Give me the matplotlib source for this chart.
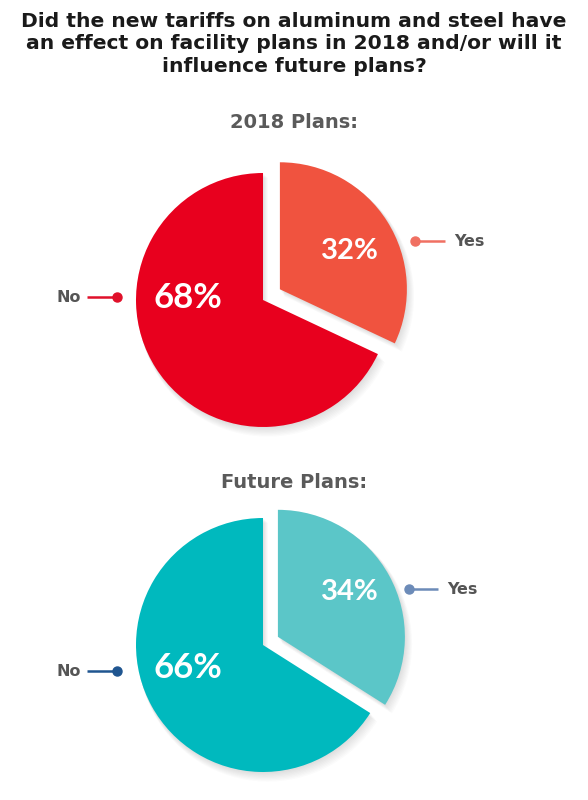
import matplotlib
matplotlib.use("Agg")
import matplotlib.pyplot as plt

# ---- data ----
title = "Did the new tariffs on aluminum and steel have\nan effect on facility plans in 2018 and/or will it\ninfluence future plans?"
chart_titles = ["2018 Plans:", "Future Plans:"]
categories = ["Yes", "No"]
plans_2018 = [32, 68]
plans_future = [34, 66]

colors_2018 = ["#F0533F", "#E8001E"]
colors_future = ["#5BC6C8", "#00B9BE"]
line_2018 = ["#F07062", "#E0102A"]
line_future = ["#6C8BB8", "#1F5590"]

H = 800
def Y(p):
    return H - p

fig = plt.figure(figsize=(5.88, 8.0), dpi=100)
ax = fig.add_axes([0, 0, 1, 1])
ax.set_xlim(0, 588)
ax.set_ylim(0, 800)
ax.set_aspect("equal")
ax.axis("off")

fig.text(0.5, 1 - 12 / 800, title, ha="center", va="top", fontsize=14.6,
         fontweight="bold", color="#1a1a1a", linespacing=1.23,
         family="DejaVu Sans")

specs = [
    dict(vals=plans_2018, cols=colors_2018, lines=line_2018, cy=300, sub_y=122,
         explode=20, yes_pct=(350, 251), no_pct=(188, 298),
         yes_lab=(415, 445, 241), no_lab=(117, 87, 297)),
    dict(vals=plans_future, cols=colors_future, lines=line_future, cy=645, sub_y=482,
         explode=17, yes_pct=(350, 592), no_pct=(188, 668),
         yes_lab=(409, 438, 589), no_lab=(117, 87, 671)),
]

cx = 263
r = 127
for i, s in enumerate(specs):
    center = (cx, Y(s["cy"]))
    # soft shadow
    for k in range(1, 9):
        ax.pie(s["vals"], colors=["#606060", "#606060"], startangle=90, counterclock=False,
               explode=[s["explode"], 0], radius=r + 0.3 * k,
               center=(center[0] + 0.6 * k, center[1] - 0.9 * k),
               wedgeprops=dict(alpha=0.022, linewidth=0, zorder=1), frame=True)
    ax.pie(s["vals"], colors=s["cols"], startangle=90, counterclock=False,
           explode=[s["explode"], 0], radius=r, center=center,
           wedgeprops=dict(linewidth=0, zorder=2), frame=True)
    ax.set_xlim(0, 588)
    ax.set_ylim(0, 800)
    ax.set_aspect("equal")
    ax.axis("off")

    ax.text(294, Y(s["sub_y"]), chart_titles[i], ha="center", va="center",
            fontsize=14, fontweight="bold", color="#5a5a5a", zorder=5)

    # percentage labels
    ax.text(s["yes_pct"][0], Y(s["yes_pct"][1]), f"{s['vals'][0]}%", ha="center",
            va="center", fontsize=21, fontweight="bold", color="white", zorder=5,
            family="Lato")
    ax.text(s["no_pct"][0], Y(s["no_pct"][1]), f"{s['vals'][1]}%", ha="center",
            va="center", fontsize=25, fontweight="bold", color="white", zorder=5,
            family="Lato")

    # Yes connector
    x0, x1, yy = s["yes_lab"]
    ax.plot([x0, x1], [Y(yy), Y(yy)], color=s["lines"][0], lw=1.8, zorder=5,
            solid_capstyle="butt")
    ax.plot([x0], [Y(yy)], "o", color=s["lines"][0], ms=6.5, zorder=6)
    ax.text(x1 + 9, Y(yy), categories[0], ha="left", va="center", fontsize=11.5,
            fontweight="bold", color="#555555", zorder=5)
    # No connector
    x0, x1, yy = s["no_lab"]
    ax.plot([x0, x1], [Y(yy), Y(yy)], color=s["lines"][1], lw=1.8, zorder=5,
            solid_capstyle="butt")
    ax.plot([x0], [Y(yy)], "o", color=s["lines"][1], ms=6.5, zorder=6)
    ax.text(x1 - 6, Y(yy), categories[1], ha="right", va="center", fontsize=11.5,
            fontweight="bold", color="#555555", zorder=5)

fig.savefig("out.png", dpi=100)
